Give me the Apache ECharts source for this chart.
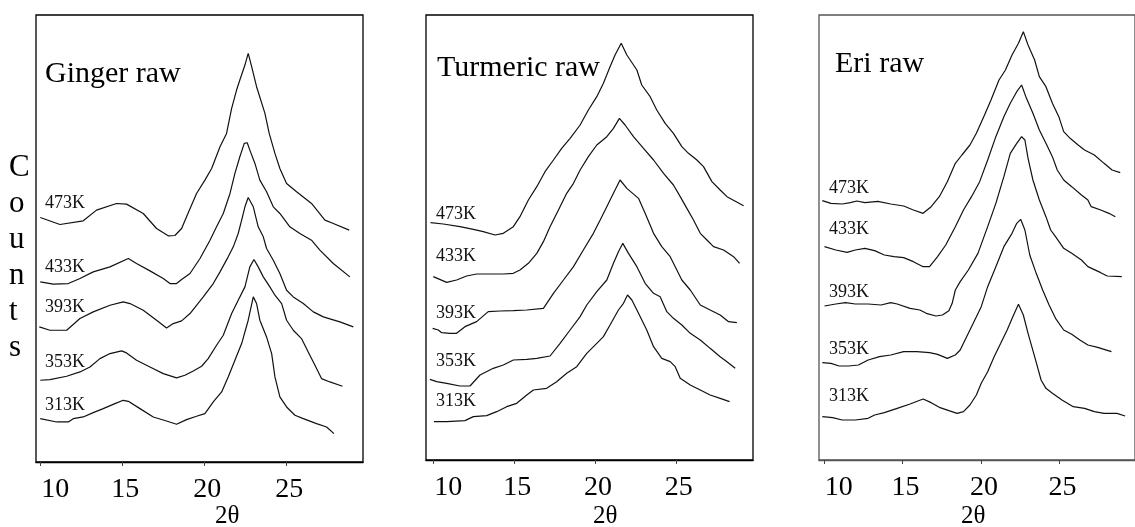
<!DOCTYPE html>
<html>
<head>
<meta charset="utf-8">
<script src="https://cdn.jsdelivr.net/npm/echarts@6/dist/echarts.min.js"></script>
<style>
html,body{margin:0;padding:0;background:#fff;}
#chart{width:1135px;height:527px;}
</style>
</head>
<body>
<div id="chart"></div>
<script>
// ---- data (2θ, counts in arbitrary units, curves stacked with offsets) ----
const xTicks = [10, 15, 20, 25];
const tempLabels = ['473K', '433K', '393K', '353K', '313K'];
const panelTitles = ['Ginger raw', 'Turmeric raw', 'Eri raw'];
const xTitle = '2θ';
const yTitle = 'Counts';

const ginger473 = [[10.00,733],[11.20,712],[12.62,723],[13.43,755],[14.65,775],[15.26,773],[16.28,745],[17.09,700],[17.80,678],[18.21,679],[18.62,700],[18.92,735],[19.53,805],[20.04,845],[20.45,880],[20.96,945],[21.36,985],[21.67,1060],[21.97,1115],[22.17,1145],[22.48,1190],[22.68,1225],[22.89,1185],[23.19,1125],[23.70,1045],[23.96,985],[24.31,925],[24.61,880],[25.02,835],[25.63,810],[26.54,775],[27.36,725],[27.87,715],[28.84,695]];
const ginger433 = [[10.00,540],[10.79,533],[11.71,535],[12.42,550],[13.23,570],[14.25,585],[15.37,610],[15.87,595],[16.69,573],[17.50,550],[17.91,535],[18.31,535],[18.62,547],[19.13,565],[19.74,610],[20.35,665],[20.75,705],[21.16,745],[21.57,805],[21.87,865],[22.17,915],[22.44,955],[22.62,957],[22.78,935],[23.09,895],[23.39,845],[23.80,810],[24.21,765],[24.61,745],[25.22,705],[25.83,685],[26.54,665],[27.05,635],[27.87,595],[28.88,555]];
const ginger393 = [[9.94,405],[10.59,395],[11.61,395],[12.42,430],[13.23,450],[14.25,470],[15.06,480],[15.47,475],[16.28,455],[17.09,425],[17.70,402],[18.11,415],[18.62,423],[19.13,445],[19.94,495],[20.55,535],[20.96,570],[21.46,615],[21.77,645],[22.07,685],[22.28,725],[22.48,765],[22.68,793],[22.99,765],[23.29,705],[23.60,675],[23.80,640],[24.21,605],[24.61,565],[25.02,515],[25.43,495],[26.04,475],[26.65,450],[27.26,435],[28.27,420],[29.09,405]];
const ginger353 = [[10.00,245],[10.59,247],[11.61,257],[12.42,270],[13.03,285],[13.64,310],[14.25,325],[14.96,333],[15.26,327],[15.87,305],[16.69,285],[17.50,265],[18.31,252],[18.82,260],[19.33,273],[19.84,287],[20.24,310],[20.75,350],[21.16,380],[21.67,445],[22.07,485],[22.48,525],[22.78,585],[23.03,607],[23.29,585],[23.60,555],[24.00,525],[24.31,500],[24.72,475],[25.02,425],[25.43,395],[25.93,370],[26.34,330],[26.75,290],[27.15,250],[27.66,240],[28.43,227]];
const ginger313 = [[10.00,130],[11.00,120],[11.71,120],[12.01,130],[12.62,135],[13.23,148],[13.84,160],[14.55,175],[15.06,185],[15.37,182],[16.08,160],[16.89,135],[17.70,123],[18.31,113],[18.92,127],[19.53,137],[20.04,145],[20.55,180],[21.06,210],[21.46,255],[21.87,305],[22.28,355],[22.68,425],[22.99,495],[23.19,475],[23.39,425],[23.80,375],[24.11,325],[24.31,255],[24.61,195],[25.02,165],[25.53,140],[26.04,130],[26.85,115],[27.46,105],[27.91,85]];

const turmeric473 = [[9.83,712],[10.62,708],[11.65,700],[12.48,692],[13.09,685],[13.82,675],[14.33,680],[14.95,700],[15.36,730],[15.88,780],[16.40,820],[16.91,865],[17.43,900],[17.94,935],[18.46,965],[19.08,1005],[19.59,1050],[20.11,1090],[20.52,1130],[20.93,1180],[21.24,1215],[21.62,1250],[21.97,1215],[22.59,1170],[22.89,1125],[23.41,1090],[23.82,1050],[24.34,1010],[24.85,980],[25.37,940],[25.78,920],[26.30,900],[26.71,880],[27.23,835],[27.74,810],[28.16,790],[29.19,763]];
const turmeric433 = [[10.00,550],[10.83,533],[11.44,540],[12.06,552],[12.68,558],[13.51,558],[14.33,558],[14.95,560],[15.36,570],[15.88,590],[16.40,620],[16.81,655],[17.22,700],[17.74,750],[18.25,800],[18.67,830],[19.08,870],[19.59,910],[20.11,945],[20.73,970],[21.14,995],[21.51,1025],[21.86,1005],[22.38,970],[23.00,935],[23.62,900],[24.24,860],[24.85,825],[25.27,790],[25.68,755],[26.09,720],[26.51,680],[26.92,660],[27.33,640],[27.95,630],[28.57,610],[28.94,590]];
const turmeric393 = [[9.96,395],[10.31,390],[10.52,382],[11.03,380],[11.44,380],[11.96,400],[12.68,415],[13.40,445],[14.13,447],[14.95,448],[15.78,450],[16.81,455],[17.43,500],[18.05,540],[18.67,580],[19.28,630],[19.90,680],[20.32,720],[20.73,760],[21.14,800],[21.55,840],[21.97,815],[22.69,785],[23.10,740],[23.62,680],[24.13,640],[24.65,610],[24.96,580],[25.37,540],[25.89,510],[26.51,465],[27.12,450],[27.74,435],[28.26,415],[28.77,412]];
const turmeric353 = [[9.79,242],[10.21,235],[10.83,230],[11.65,222],[12.27,222],[12.89,255],[13.71,275],[14.33,285],[14.95,300],[15.78,302],[16.40,305],[17.22,312],[17.84,350],[18.46,390],[19.08,430],[19.49,465],[20.11,505],[20.73,540],[21.14,590],[21.45,625],[21.72,650],[22.07,620],[22.59,580],[23.10,530],[23.62,500],[24.03,490],[24.44,445],[24.85,425],[25.37,405],[25.89,380],[26.51,360],[27.12,335],[27.74,310],[28.16,295],[28.67,275]];
const turmeric313 = [[10.04,115],[10.83,115],[11.96,118],[12.48,130],[13.30,133],[13.92,145],[14.54,160],[15.16,170],[15.78,195],[16.19,210],[17.01,215],[17.63,235],[18.25,260],[18.87,280],[19.49,320],[20.11,350],[20.52,370],[20.93,405],[21.45,450],[21.76,470],[22.01,495],[22.28,480],[22.69,440],[23.20,390],[23.62,340],[24.13,305],[24.65,295],[24.96,280],[25.27,245],[25.89,225],[26.51,210],[27.12,195],[27.74,185],[28.32,175]];

const eri473 = [[9.90,778],[10.45,770],[11.17,768],[11.69,772],[12.10,777],[12.61,772],[13.44,776],[14.26,768],[15.08,762],[15.70,750],[16.32,740],[16.83,760],[17.35,790],[17.86,835],[18.37,890],[18.79,915],[19.30,945],[19.71,980],[20.23,1035],[20.64,1080],[21.15,1140],[21.56,1170],[21.98,1215],[22.39,1250],[22.70,1285],[23.00,1245],[23.42,1200],[23.72,1150],[24.14,1120],[24.55,1070],[24.96,1030],[25.27,985],[25.68,965],[26.19,945],[26.60,930],[27.22,915],[27.84,890],[28.35,870],[28.87,862]];
const eri433 = [[10.04,640],[10.76,630],[11.48,623],[12.00,630],[12.61,635],[13.23,628],[13.85,615],[14.47,610],[15.08,607],[15.70,595],[16.32,580],[16.73,580],[17.24,610],[17.76,645],[18.37,700],[18.89,750],[19.40,790],[19.92,835],[20.43,900],[20.95,970],[21.46,1030],[21.87,1070],[22.28,1105],[22.59,1125],[22.90,1085],[23.31,1040],[23.72,990],[24.14,950],[24.55,910],[24.86,870],[25.27,840],[25.78,820],[26.40,795],[26.81,780],[27.02,760],[27.63,750],[28.15,740],[28.56,730]];
const eri393 = [[10.04,462],[10.76,468],[11.38,472],[12.00,468],[12.82,468],[13.64,465],[14.26,472],[14.67,468],[15.49,455],[16.11,450],[16.52,440],[17.14,432],[17.55,435],[17.96,448],[18.17,470],[18.37,510],[18.68,535],[19.20,570],[19.81,620],[20.43,700],[20.95,770],[21.46,850],[21.87,920],[22.28,950],[22.59,970],[22.80,960],[23.00,905],[23.31,840],[23.72,780],[24.14,730],[24.44,690],[24.75,670],[25.27,635],[25.78,620],[26.40,600],[26.81,580],[27.63,562],[28.04,552],[28.97,550]];
const eri353 = [[9.90,292],[10.45,290],[10.97,282],[11.58,282],[12.20,285],[12.82,300],[13.54,310],[14.26,315],[15.08,325],[15.91,325],[16.73,322],[17.24,317],[17.86,305],[18.37,315],[18.68,330],[19.09,370],[19.51,410],[20.02,460],[20.43,520],[20.95,580],[21.46,640],[21.98,680],[22.28,710],[22.53,722],[22.80,690],[23.11,615],[23.52,560],[23.93,510],[24.34,465],[24.75,425],[25.27,390],[25.78,377],[26.30,360],[26.81,345],[27.43,338],[28.31,325]];
const eri313 = [[9.90,130],[10.56,127],[11.17,120],[12.00,120],[12.82,125],[13.23,135],[13.85,142],[14.67,155],[15.49,168],[16.32,183],[16.83,172],[17.35,158],[17.96,148],[18.48,140],[18.89,145],[19.30,165],[19.71,195],[20.02,230],[20.43,265],[20.84,310],[21.26,350],[21.67,390],[22.08,435],[22.39,467],[22.70,435],[23.00,380],[23.42,310],[23.83,240],[24.14,215],[24.55,200],[25.16,180],[25.88,160],[26.60,155],[27.22,145],[27.84,140],[28.66,140],[29.18,132]];

const panelSeries = [
  [ginger473, ginger433, ginger393, ginger353, ginger313],
  [turmeric473, turmeric433, turmeric393, turmeric353, turmeric313],
  [eri473, eri433, eri393, eri353, eri313]
];

// ---- layout ----
const SERIF = '"Liberation Serif", "DejaVu Serif", serif';
const layout = [
  {left: 36, right: 772, top: 15, bottom: 65, xmin: 9.74, xmax: 29.68, ymax: 1340, border: '#000',
   title: [45, 76], labelX: 45, labelY: [203, 267, 307, 362, 405], xName: 228},
  {left: 426, right: 382, top: 15, bottom: 67, xmin: 9.55, xmax: 29.77, ymax: 1335, border: '#000',
   title: [437, 70], labelX: 436, labelY: [214, 256, 313, 361, 401], xName: 606},
  {left: 819, right: -11, top: 15, bottom: 67, xmin: 9.69, xmax: 29.81, ymax: 1335, border: '#555',
   title: [835, 66], labelX: 829, labelY: [188, 229, 292, 349, 396], xName: 974}
];

const grids = [], xAxes = [], yAxes = [], series = [], graphics = [];
layout.forEach((L, p) => {
  grids.push({left: L.left, right: L.right, top: L.top, bottom: L.bottom,
    show: true, borderColor: L.border, borderWidth: 1.3, backgroundColor: 'transparent'});
  xAxes.push({
    type: 'value', gridIndex: p, min: L.xmin, max: L.xmax,
    splitLine: {show: false},
    axisLine: {show: true, onZero: false, lineStyle: {color: L.border, width: 1.3}},
    axisTick: {show: true, inside: false, length: 4, customValues: xTicks, lineStyle: {color: '#444'}},
    axisLabel: {
      show: true, customValues: xTicks, margin: 14,
      color: '#000', fontFamily: SERIF, fontSize: 28,
      formatter: v => (v === xTicks[0] ? '{f|' + v + '}' : '{n|' + v + '}'),
      rich: {
        f: {fontFamily: SERIF, fontSize: 28, color: '#000', padding: [0, 0, 0, 30]},
        n: {fontFamily: SERIF, fontSize: 28, color: '#000', padding: [0, 0, 0, 6]}
      }
    }
  });
  yAxes.push({type: 'value', gridIndex: p, min: 0, max: L.ymax, show: false, splitLine: {show: false}});
  panelSeries[p].forEach((d, i) => {
    series.push({
      type: 'line', xAxisIndex: p, yAxisIndex: p, data: d, name: panelTitles[p] + ' ' + tempLabels[i],
      showSymbol: false, symbol: 'none', smooth: false, animation: false,
      lineStyle: {color: '#111', width: 1.2}
    });
    graphics.push({type: 'text', left: L.labelX, top: L.labelY[i] - 9,
      style: {text: tempLabels[i], fontFamily: SERIF, fontSize: 18, fill: '#111'}});
  });
  graphics.push({type: 'text', left: L.title[0], top: L.title[1] - 17,
    style: {text: panelTitles[p], fontFamily: SERIF, fontSize: 30, fill: '#000'}});
  graphics.push({type: 'text', left: L.xName - 13, top: 504,
    style: {text: xTitle, fontFamily: SERIF, fontSize: 25, fill: '#000'}});
});
graphics.push({type: 'text', left: 9, top: 150,
  style: {text: yTitle.split('').join('\n'), fontFamily: SERIF, fontSize: 31, lineHeight: 36, fill: '#000', align: 'center'}});

const chart = echarts.init(document.getElementById('chart'), null, {renderer: 'canvas'});
chart.setOption({
  backgroundColor: '#fff',
  animation: false,
  grid: grids, xAxis: xAxes, yAxis: yAxes, series: series,
  graphic: graphics
});
</script>
</body>
</html>
